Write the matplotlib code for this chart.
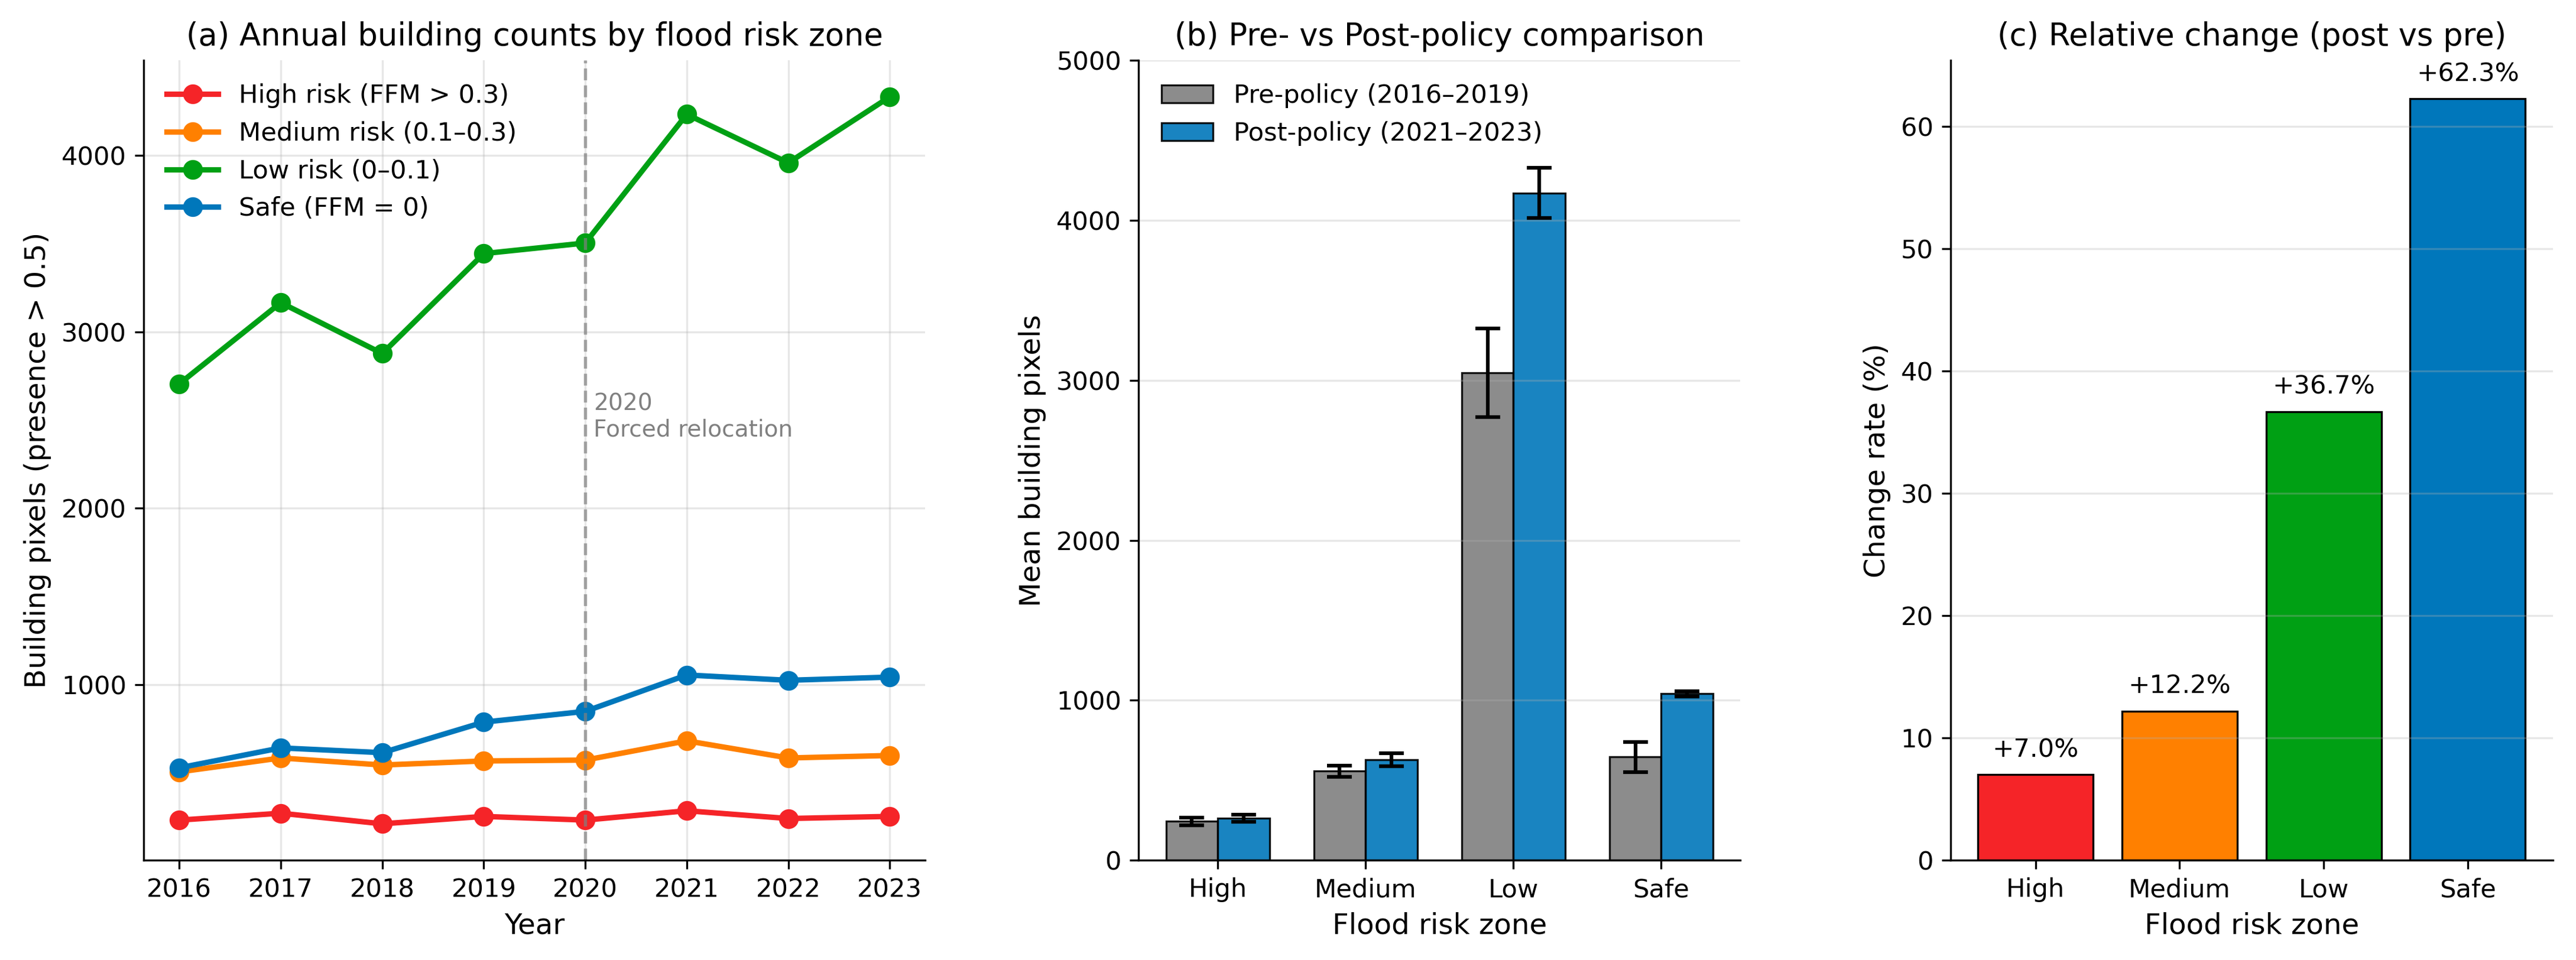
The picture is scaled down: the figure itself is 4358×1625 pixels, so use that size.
import matplotlib
matplotlib.use("Agg")
import matplotlib.pyplot as plt
import numpy as np

# 연도별 위험구역 건물 픽셀 수
years = [2016, 2017, 2018, 2019, 2020, 2021, 2022, 2023]
high = [234, 273, 213, 255, 234, 287, 243, 255]
medium = [507, 586, 546, 569, 574, 683, 586, 600]
low = [2705, 3165, 2877, 3443, 3503, 4232, 3957, 4331]
safe = [530, 643, 616, 789, 850, 1056, 1026, 1044]

zones = ["High", "Medium", "Low", "Safe"]
pre_mean = [242, 556, 3049, 645]
pre_err = [25, 34, 277, 93]
post_mean = [262, 628, 4172, 1041]
post_err = [23, 40, 157, 16]
change_pct = [7.0, 12.2, 36.7, 62.3]

colors = ["#F52428", "#FF8000", "#00A014", "#0077BB"]
labels = ["High risk (FFM > 0.3)", "Medium risk (0.1\u20130.3)",
          "Low risk (0\u20130.1)", "Safe (FFM = 0)"]

TITLE = 12.7
LABEL = 11.6
TICK = 10.4

fig = plt.figure(figsize=(4358 / 300, 1625 / 300), dpi=300)
ax1 = fig.add_axes([0.0558, 0.104, 0.3034, 0.833])
ax2 = fig.add_axes([0.442, 0.104, 0.2336, 0.833])
ax3 = fig.add_axes([0.7572, 0.104, 0.2338, 0.833])

# (a) 연도별 추이
for series, c, lab in zip([high, medium, low, safe], colors, labels):
    ax1.plot(years, series, marker="o", color=c, lw=2.2, ms=7, label=lab)
ax1.axvline(2020, color="gray", ls="--", lw=1.3, alpha=0.7)
ax1.text(2020.08, 2380, "2020\nForced relocation", color="gray", fontsize=9.4,
         va="bottom", ha="left")
ax1.set_xticks(years)
ax1.set_xlabel("Year", fontsize=LABEL)
ax1.set_ylabel("Building pixels (presence > 0.5)", fontsize=LABEL)
ax1.set_title("(a) Annual building counts by flood risk zone", fontsize=TITLE)
ax1.grid(True, alpha=0.3)
ax1.legend(frameon=False, fontsize=TICK, loc="upper left")

# (b) 정책 전후 비교
x = np.arange(len(zones))
w = 0.35
ax2.bar(x - w / 2, pre_mean, w, yerr=pre_err, capsize=5, color="#808080",
        alpha=0.9, edgecolor="black", linewidth=0.8,
        error_kw=dict(elinewidth=1.5, capthick=1.5),
        label="Pre-policy (2016\u20132019)")
ax2.bar(x + w / 2, post_mean, w, yerr=post_err, capsize=5, color="#0077BB",
        alpha=0.9, edgecolor="black", linewidth=0.8,
        error_kw=dict(elinewidth=1.5, capthick=1.5),
        label="Post-policy (2021\u20132023)")
ax2.set_xticks(x)
ax2.set_xticklabels(zones)
ax2.set_ylim(0, 5000)
ax2.set_xlabel("Flood risk zone", fontsize=LABEL)
ax2.set_ylabel("Mean building pixels", fontsize=LABEL)
ax2.set_title("(b) Pre- vs Post-policy comparison", fontsize=TITLE)
ax2.grid(True, axis="y", alpha=0.3)
ax2.legend(frameon=False, fontsize=TICK, loc="upper left")

# (c) 변화율
ax3.bar(x, change_pct, 0.8, color=colors, edgecolor="black", linewidth=0.8)
for xi, v in zip(x, change_pct):
    ax3.text(xi, v + 1.0, f"+{v:.1f}%", ha="center", va="bottom", fontsize=TICK)
ax3.set_xticks(x)
ax3.set_xticklabels(zones)
ax3.set_ylim(0, max(change_pct) * 1.05)
ax3.set_xlabel("Flood risk zone", fontsize=LABEL)
ax3.set_ylabel("Change rate (%)", fontsize=LABEL)
ax3.set_title("(c) Relative change (post vs pre)", fontsize=TITLE)
ax3.grid(True, axis="y", alpha=0.3)

for ax in (ax1, ax2, ax3):
    ax.spines["top"].set_visible(False)
    ax.spines["right"].set_visible(False)
    ax.tick_params(labelsize=TICK)

fig.savefig("out.png", dpi=300)
